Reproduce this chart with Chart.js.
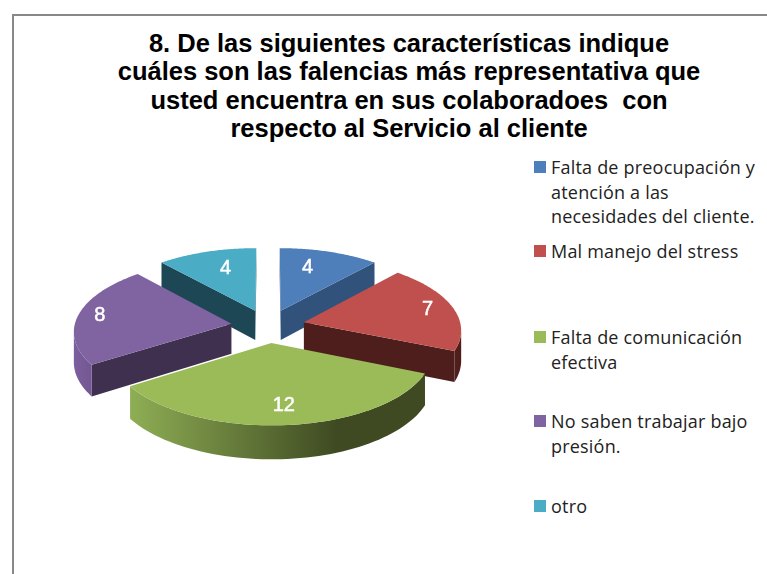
<!DOCTYPE html>
<html lang="es">
  <head>
    <meta charset="UTF-8" />
    <title>Falencias servicio al cliente</title>
    <script src="https://cdn.jsdelivr.net/npm/chart.js"></script>
    <style>
      html, body {
        margin: 0;
        background: #fff;
        overflow: hidden;
      }
      #page {
        position: relative;
        width: 767px;
        height: 574px;
        overflow: hidden;
      }
      #frame {
        position: absolute;
        left: 12px;
        top: 14px;
        width: 800px;
        height: 600px;
        border-left: 2px solid #888;
        border-top: 2px solid #888;
      }
      #title {
        position: absolute;
        left: 60px;
        width: 698px;
        top: 29px;
        text-align: center;
        font: bold 25.5px/28.4px "Liberation Sans", sans-serif;
        color: #000;
        white-space: pre;
      }
      #chart {
        position: absolute;
        left: 13px;
        top: 140px;
      }
      .key {
        position: absolute;
        left: 534px;
        width: 12px;
        height: 12px;
      }
      .txt {
        position: absolute;
        left: 551px;
        font: 18px/24.5px "Open Sans", sans-serif;
        letter-spacing: 0.2px;
        color: #222;
        white-space: pre;
      }
    </style>
  </head>
  <body>
    <div id="page">
      <div id="frame"></div>
      <div id="title"></div>
      <canvas id="chart" width="510" height="372"></canvas>
    </div>

    <script>
      const titleLines = [
        "8. De las siguientes características indique",
        "cuáles son las falencias más representativa que",
        "usted encuentra en sus colaboradoes  con",
        "respecto al Servicio al cliente",
      ];
      const categories = [
        "Falta de preocupación y\natención a las\nnecesidades del cliente.",
        "Mal manejo del stress",
        "Falta de comunicación\nefectiva",
        "No saben trabajar bajo\npresión.",
        "otro",
      ];
      const values = [4, 7, 12, 8, 4];

      const topColors = ["#4f7fbb", "#c0504d", "#9bbb59", "#8064a2", "#4bacc6"];
      const edgeColors = ["#30527b", "#4e1e1c", "#3f4a22", "#40304f", "#1e4755"];
      const arcStops = [
        ["#30527b", "#30527b"],
        ["#6b2a28", "#4e1e1c"],
        ["#8eae54", "#3f4a22"],
        ["#7c5f9e", "#5a4474"],
        ["#1e4755", "#1e4755"],
      ];
      const labelRadius = [0.69, 0.83, 0.78, 0.86, 0.69];
      const labelSpan = [0.39, 0.5, 0.5, 0.5, 0.57];
      const legendTop = [155, 239, 325, 409, 494];

      // tilt and perspective of the pie plane
      const tilt = 0.453;
      const eye = 1665;
      const depth = 30;
      const paintOrder = [4, 0, 3, 1, 2];

      document.getElementById("title").textContent = titleLines.join("\n");

      const page = document.getElementById("page");
      categories.forEach((text, i) => {
        const key = document.createElement("div");
        key.className = "key";
        key.style.top = legendTop[i] + 6 + "px";
        key.style.background = topColors[i];
        page.appendChild(key);
        const txt = document.createElement("div");
        txt.className = "txt";
        txt.style.top = legendTop[i] + "px";
        txt.textContent = text;
        page.appendChild(txt);
      });

      const project = (el, X, Y, drop) => {
        const f = eye / (eye - Y);
        return { x: el.x + X * f, y: el.y + tilt * Y * f + (drop ? depth * f : 0) };
      };

      const fillShape = (ctx, pts, color) => {
        ctx.beginPath();
        pts.forEach((q, n) => (n ? ctx.lineTo(q.x, q.y) : ctx.moveTo(q.x, q.y)));
        ctx.closePath();
        ctx.fillStyle = color;
        ctx.fill();
      };

      const pie3d = {
        id: "pie3d",
        beforeDatasetDraw(chart) {
          const ctx = chart.ctx;
          const arcs = chart.getDatasetMeta(0).data;
          paintOrder.forEach((i) => {
            const el = arcs[i];
            const mid = (el.startAngle + el.endAngle) / 2;
            const ox = el.options.offset * Math.cos(mid);
            const oy = el.options.offset * Math.sin(mid);
            const rim = [];
            const steps = 60;
            for (let s = 0; s <= steps; s++) {
              const a = el.startAngle + ((el.endAngle - el.startAngle) * s) / steps;
              rim.push([ox + el.outerRadius * Math.cos(a), oy + el.outerRadius * Math.sin(a)]);
            }
            const top = rim.map((p) => project(el, p[0], p[1]));
            const low = rim.map((p) => project(el, p[0], p[1], true));
            const tip = project(el, ox, oy);
            const tipLow = project(el, ox, oy, true);

            const xs = top.map((p) => p.x);
            const grad = ctx.createLinearGradient(Math.min(...xs), 0, Math.max(...xs), 0);
            grad.addColorStop(0, arcStops[i][0]);
            grad.addColorStop(i === 2 ? 0.7 : 1, arcStops[i][1]);
            if (i === 2) grad.addColorStop(1, arcStops[i][1]);

            // only faces turned to the viewer: outline runs clockwise, so x falling
            if (top[0].x < tip.x) {
              fillShape(ctx, [tip, top[0], low[0], tipLow], edgeColors[i]);
            }
            const last = top.length - 1;
            if (tip.x < top[last].x) {
              fillShape(ctx, [top[last], tip, tipLow, low[last]], edgeColors[i]);
            }
            const front = [];
            for (let s = 0; s < last; s++) {
              if (top[s + 1].x < top[s].x) front.push(s, s + 1);
            }
            if (front.length) {
              const from = Math.min(...front);
              const to = Math.max(...front);
              fillShape(
                ctx,
                [...top.slice(from, to + 1), ...low.slice(from, to + 1).reverse()],
                grad
              );
            }

            fillShape(ctx, [tip, ...top], topColors[i]);
          });

          // value labels
          ctx.fillStyle = "#fff";
          ctx.strokeStyle = "#fff";
          ctx.lineWidth = 0.5;
          ctx.font = "20px 'Liberation Sans', sans-serif";
          ctx.textAlign = "center";
          ctx.textBaseline = "middle";
          arcs.forEach((el, i) => {
            const mid = (el.startAngle + el.endAngle) / 2;
            const a = el.startAngle + (el.endAngle - el.startAngle) * labelSpan[i];
            const r = el.outerRadius * labelRadius[i];
            const q = project(
              el,
              el.options.offset * Math.cos(mid) + r * Math.cos(a),
              el.options.offset * Math.sin(mid) + r * Math.sin(a)
            );
            ctx.fillText(String(values[i]), q.x, q.y);
            ctx.strokeText(String(values[i]), q.x, q.y);
          });
          return false;
        },
      };

      new Chart(document.getElementById("chart"), {
        type: "pie",
        data: {
          labels: categories,
          datasets: [
            {
              data: values,
              backgroundColor: topColors,
              offset: 37,
            },
          ],
        },
        options: {
          responsive: false,
          animation: false,
          events: [],
          radius: 157,
          layout: { padding: 0 },
          plugins: {
            legend: { display: false },
            title: { display: false },
            tooltip: { enabled: false },
          },
        },
        plugins: [pie3d],
      });
    </script>
  </body>
</html>
